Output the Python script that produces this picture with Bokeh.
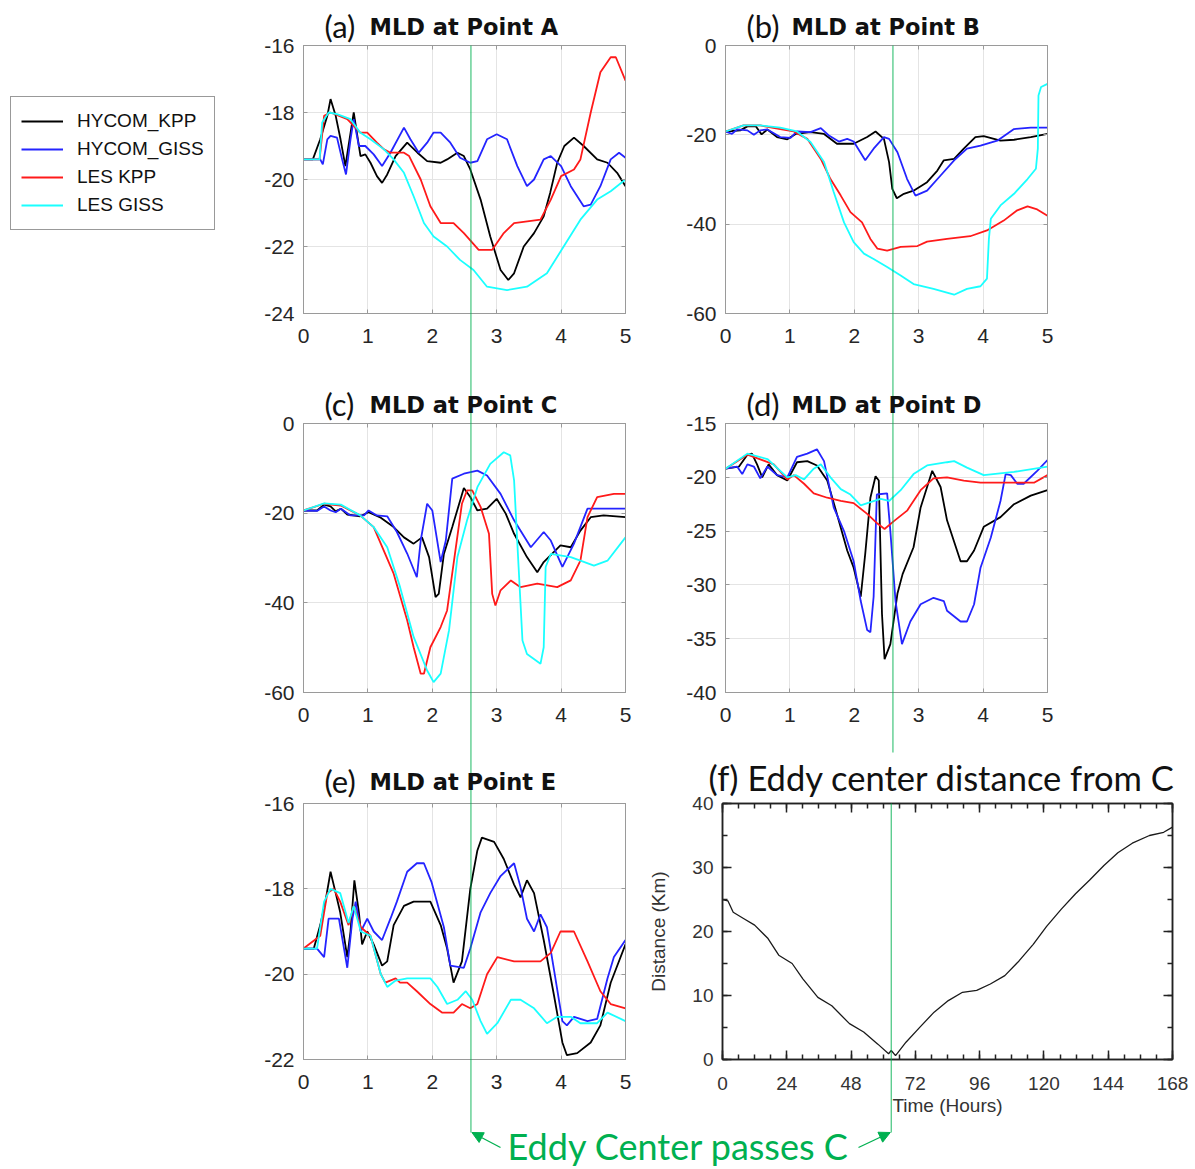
from bokeh.plotting import figure
from bokeh.layouts import column, row
from bokeh.models import (Range1d, LinearAxis, FixedTicker, Legend, LegendItem,
                          Label, Arrow, NormalHead, CustomJSTickFormatter,
                          PrintfTickFormatter, Spacer)
from bokeh.embed import file_html
from bokeh.resources import INLINE

# ---------------- data (days, MLD in m) ----------------
series_names = ["HYCOM_KPP", "HYCOM_GISS", "LES KPP", "LES GISS"]
series_colors = ["#000000", "#2424ff", "#ff1a1a", "#1affff"]

# Panel (a) Point A
a_hkpp_t = [0, 0.145, 0.26, 0.37, 0.42, 0.5, 0.575, 0.65, 0.78, 0.885, 0.96, 1.04, 1.14, 1.22, 1.3, 1.43, 1.61, 1.77, 1.92, 2.13, 2.23, 2.39, 2.49, 2.59, 2.75, 2.9, 3.06, 3.18, 3.27, 3.42, 3.58, 3.73, 3.83, 3.94, 4.05, 4.2, 4.35, 4.56, 4.72, 4.87, 5.0]
a_hkpp_mld = [-19.4, -19.4, -18.8, -18.1, -17.6, -18.1, -18.8, -19.6, -18.0, -19.3, -19.25, -19.5, -19.9, -20.1, -19.85, -19.3, -18.9, -19.2, -19.45, -19.5, -19.4, -19.2, -19.3, -19.7, -20.6, -21.7, -22.7, -23.0, -22.8, -22.0, -21.6, -21.1, -20.4, -19.5, -19.0, -18.75, -19.0, -19.4, -19.5, -19.8, -20.2]
a_hgiss_t = [0, 0.2, 0.26, 0.3, 0.37, 0.42, 0.52, 0.6, 0.66, 0.73, 0.78, 0.86, 0.96, 1.09, 1.22, 1.35, 1.56, 1.66, 1.79, 1.92, 2.02, 2.13, 2.28, 2.43, 2.59, 2.7, 2.85, 3.0, 3.16, 3.32, 3.47, 3.58, 3.73, 3.84, 4.0, 4.15, 4.35, 4.46, 4.61, 4.77, 4.9, 5.0]
a_hgiss_mld = [-19.4, -19.4, -19.4, -19.55, -18.8, -18.7, -18.75, -19.4, -19.85, -18.8, -18.2, -19.0, -19.0, -19.25, -19.6, -19.2, -18.45, -18.8, -19.2, -18.9, -18.6, -18.6, -18.9, -19.35, -19.5, -19.45, -18.8, -18.65, -18.8, -19.6, -20.2, -20.0, -19.4, -19.3, -19.6, -20.2, -20.8, -20.75, -20.2, -19.4, -19.2, -19.35]
a_lkpp_t = [0, 0.25, 0.32, 0.42, 0.68, 0.88, 0.99, 1.14, 1.25, 1.35, 1.56, 1.64, 1.82, 1.97, 2.13, 2.33, 2.49, 2.72, 2.93, 3.11, 3.27, 3.68, 3.84, 4.0, 4.2, 4.3, 4.46, 4.61, 4.77, 4.85, 5.0]
a_lkpp_mld = [-19.4, -19.4, -18.1, -18.0, -18.2, -18.6, -18.6, -18.9, -19.1, -19.2, -19.2, -19.3, -20.0, -20.8, -21.3, -21.3, -21.6, -22.1, -22.1, -21.6, -21.3, -21.2, -20.6, -19.9, -19.7, -19.4, -18.0, -16.8, -16.35, -16.35, -17.05]
a_lgiss_t = [0, 0.25, 0.29, 0.39, 0.52, 0.73, 0.88, 1.04, 1.25, 1.4, 1.56, 1.71, 1.87, 2.02, 2.23, 2.43, 2.64, 2.85, 3.16, 3.47, 3.78, 4.04, 4.3, 4.56, 4.77, 5.0]
a_lgiss_mld = [-19.4, -19.4, -18.3, -18.0, -18.05, -18.2, -18.6, -18.8, -19.1, -19.4, -19.8, -20.5, -21.3, -21.7, -22.0, -22.4, -22.7, -23.2, -23.3, -23.2, -22.8, -22.0, -21.2, -20.6, -20.35, -20.0]

# Panel (b) Point B
b_hkpp_t = [0, 0.23, 0.34, 0.47, 0.56, 0.65, 0.8, 0.96, 1.09, 1.32, 1.53, 1.73, 1.99, 2.2, 2.33, 2.46, 2.54, 2.59, 2.66, 2.77, 2.92, 3.13, 3.29, 3.39, 3.55, 3.7, 3.88, 4.01, 4.27, 4.48, 4.74, 5.0]
b_hkpp_mld = [-19.25, -19.0, -18.1, -18.1, -19.9, -18.8, -20.5, -21.0, -19.8, -19.4, -19.8, -22.0, -22.0, -20.5, -19.25, -20.9, -26.1, -32.1, -34.2, -33.2, -32.5, -30.6, -28.0, -25.7, -25.4, -23.1, -20.5, -20.3, -21.3, -21.1, -20.5, -19.8]
b_hgiss_t = [0, 0.1, 0.18, 0.34, 0.44, 0.54, 0.65, 0.85, 1.01, 1.11, 1.32, 1.48, 1.6, 1.76, 1.89, 1.99, 2.17, 2.3, 2.46, 2.54, 2.67, 2.82, 2.95, 3.13, 3.34, 3.55, 3.75, 3.96, 4.22, 4.48, 4.74, 5.0]
b_hgiss_mld = [-19.25, -19.8, -18.8, -19.0, -20.0, -19.0, -18.8, -20.5, -20.7, -19.25, -19.4, -18.5, -20.1, -21.5, -20.9, -21.5, -25.7, -23.1, -20.5, -20.9, -23.9, -29.9, -33.6, -32.5, -29.1, -25.7, -23.1, -22.4, -21.3, -18.7, -18.4, -18.4]
b_lkpp_t = [0, 0.28, 0.54, 0.85, 1.06, 1.27, 1.48, 1.63, 1.79, 1.94, 2.12, 2.25, 2.36, 2.51, 2.72, 2.98, 3.13, 3.44, 3.8, 4.06, 4.32, 4.53, 4.69, 4.84, 5.0]
b_lkpp_mld = [-19.25, -17.9, -17.9, -18.7, -19.25, -20.9, -25.4, -29.9, -33.6, -37.3, -39.6, -43.3, -45.5, -45.9, -45.1, -44.9, -43.9, -43.3, -42.7, -41.4, -39.2, -36.9, -36.0, -36.7, -38.1]
b_lgiss_t = [0, 0.28, 0.54, 0.85, 1.11, 1.32, 1.53, 1.68, 1.84, 1.99, 2.15, 2.3, 2.51, 2.72, 2.92, 3.23, 3.55, 3.75, 3.96, 4.06, 4.09, 4.12, 4.27, 4.48, 4.69, 4.82, 4.85, 4.86, 4.9, 5.0]
b_lgiss_mld = [-19.25, -17.9, -17.9, -18.4, -19.25, -21.6, -26.1, -32.8, -39.6, -44.0, -46.6, -47.8, -49.6, -51.5, -53.4, -54.5, -55.8, -54.5, -53.9, -52.2, -43.3, -38.8, -35.8, -33.2, -29.9, -27.6, -23.1, -11.2, -9.3, -8.6]

# Panel (c) Point C
c_hkpp_t = [0, 0.21, 0.32, 0.42, 0.5, 0.58, 0.68, 0.88, 1.01, 1.2, 1.4, 1.56, 1.71, 1.84, 1.95, 2.05, 2.1, 2.18, 2.31, 2.49, 2.59, 2.7, 2.85, 3.0, 3.14, 3.27, 3.47, 3.63, 3.73, 3.99, 4.15, 4.3, 4.46, 4.66, 5.0]
c_hkpp_mld = [-19.4, -19.4, -18.1, -18.5, -19.6, -19.0, -20.3, -20.7, -19.8, -21.0, -23.1, -25.4, -26.8, -25.4, -29.8, -38.7, -38.0, -29.1, -23.1, -14.4, -16.4, -19.4, -19.0, -16.8, -20.1, -24.6, -29.8, -33.2, -30.9, -27.2, -27.6, -23.9, -20.9, -20.5, -20.9]
c_hgiss_t = [0, 0.21, 0.32, 0.42, 0.5, 0.58, 0.73, 0.94, 1.01, 1.14, 1.3, 1.45, 1.61, 1.76, 1.82, 1.92, 2.0, 2.13, 2.21, 2.31, 2.49, 2.7, 2.85, 3.06, 3.27, 3.53, 3.73, 3.84, 4.02, 4.2, 4.41, 5.0]
c_hgiss_mld = [-19.4, -19.5, -18.5, -19.4, -19.8, -19.0, -20.5, -20.5, -19.4, -20.5, -20.7, -24.2, -29.0, -34.3, -26.1, -17.9, -19.4, -30.9, -26.1, -12.3, -11.2, -10.5, -11.6, -15.7, -21.6, -27.6, -24.2, -26.1, -32.0, -26.8, -19.0, -19.0]
c_lkpp_t = [0, 0.32, 0.58, 0.88, 1.09, 1.2, 1.4, 1.61, 1.71, 1.82, 1.87, 1.97, 2.13, 2.23, 2.33, 2.46, 2.54, 2.62, 2.75, 2.88, 2.93, 2.98, 3.06, 3.22, 3.37, 3.63, 3.94, 4.15, 4.3, 4.41, 4.56, 4.82, 5.0]
c_lkpp_mld = [-19.4, -17.9, -18.3, -20.5, -23.1, -26.8, -33.5, -43.9, -49.9, -55.8, -55.8, -49.9, -45.4, -41.7, -31.3, -17.9, -14.9, -14.9, -18.6, -24.6, -38.0, -40.6, -37.2, -35.0, -36.5, -35.7, -36.5, -35.0, -30.6, -20.9, -16.4, -15.7, -15.7]
c_lgiss_t = [0, 0.32, 0.58, 0.88, 1.09, 1.3, 1.5, 1.71, 1.92, 2.02, 2.13, 2.26, 2.39, 2.54, 2.7, 2.9, 3.11, 3.21, 3.27, 3.34, 3.4, 3.47, 3.68, 3.73, 3.76, 3.84, 4.15, 4.3, 4.51, 4.72, 5.0]
c_lgiss_mld = [-19.4, -17.8, -18.1, -20.5, -23.1, -27.6, -36.5, -47.6, -55.1, -57.7, -55.8, -46.1, -29.8, -21.6, -14.2, -9.0, -6.4, -7.1, -12.7, -32.0, -48.4, -51.4, -53.6, -49.9, -32.0, -29.1, -29.8, -30.6, -31.7, -30.6, -25.4]

# Panel (d) Point D
d_hkpp_t = [0, 0.21, 0.34, 0.41, 0.49, 0.57, 0.67, 0.8, 0.96, 1.11, 1.27, 1.42, 1.58, 1.73, 1.89, 1.99, 2.1, 2.17, 2.25, 2.33, 2.38, 2.43, 2.47, 2.56, 2.67, 2.75, 2.92, 3.03, 3.21, 3.34, 3.44, 3.65, 3.75, 3.86, 4.01, 4.27, 4.48, 4.74, 5.0]
d_hkpp_mld = [-19.2, -19.0, -17.9, -17.8, -18.8, -20.0, -18.8, -19.8, -20.3, -18.6, -18.5, -18.9, -20.3, -23.4, -26.8, -28.4, -31.1, -27.1, -21.9, -19.9, -20.3, -32.7, -36.9, -35.5, -30.8, -29.0, -26.5, -22.8, -19.4, -20.9, -24.0, -27.8, -27.8, -26.8, -24.6, -23.7, -22.5, -21.7, -21.2]
d_hgiss_t = [0, 0.18, 0.26, 0.34, 0.44, 0.54, 0.65, 0.8, 0.96, 1.11, 1.27, 1.42, 1.53, 1.68, 1.84, 1.99, 2.1, 2.2, 2.25, 2.3, 2.35, 2.51, 2.56, 2.64, 2.74, 2.87, 3.03, 3.23, 3.39, 3.44, 3.65, 3.75, 3.86, 3.96, 4.12, 4.27, 4.35, 4.43, 4.53, 4.63, 4.84, 5.0]
d_hgiss_mld = [-19.2, -19.0, -19.7, -18.8, -19.0, -20.1, -19.0, -19.8, -20.0, -18.1, -17.8, -17.4, -18.5, -22.8, -25.0, -27.8, -31.5, -34.2, -34.4, -31.1, -21.6, -21.5, -25.0, -31.5, -35.5, -33.4, -31.8, -31.2, -31.5, -32.4, -33.4, -33.4, -31.8, -28.4, -25.6, -22.2, -19.7, -19.8, -20.6, -20.6, -19.4, -18.4]
d_lkpp_t = [0, 0.34, 0.75, 0.96, 1.06, 1.22, 1.37, 1.58, 1.79, 1.99, 2.2, 2.36, 2.47, 2.61, 2.82, 3.03, 3.23, 3.44, 3.7, 3.96, 4.48, 4.79, 5.0]
d_lkpp_mld = [-19.2, -17.9, -18.8, -20.2, -19.8, -20.6, -21.5, -21.9, -22.2, -22.4, -23.4, -24.3, -24.8, -24.1, -23.1, -21.2, -20.1, -20.0, -20.3, -20.5, -20.5, -20.5, -19.8]
d_lgiss_t = [0, 0.34, 0.65, 0.96, 1.09, 1.22, 1.37, 1.48, 1.63, 1.79, 1.94, 2.1, 2.25, 2.41, 2.54, 2.72, 2.92, 3.13, 3.44, 3.55, 3.75, 4.01, 4.48, 5.0]
d_lgiss_mld = [-19.2, -17.8, -18.3, -20.0, -19.8, -20.2, -19.2, -18.8, -20.0, -21.1, -21.6, -22.6, -22.3, -22.0, -22.2, -21.2, -19.7, -18.9, -18.6, -18.5, -19.1, -19.8, -19.5, -19.0]

# Panel (e) Point E
e_hkpp_t = [0, 0.16, 0.26, 0.34, 0.42, 0.5, 0.57, 0.68, 0.73, 0.79, 0.86, 0.91, 0.99, 1.09, 1.22, 1.3, 1.4, 1.56, 1.71, 1.82, 1.97, 2.13, 2.23, 2.33, 2.46, 2.59, 2.7, 2.77, 2.96, 3.11, 3.27, 3.37, 3.47, 3.58, 3.73, 3.89, 4.02, 4.09, 4.25, 4.46, 4.61, 4.77, 5.0]
e_hkpp_mld = [-19.4, -19.4, -18.85, -18.3, -17.6, -18.1, -18.55, -19.6, -19.0, -17.8, -18.55, -19.3, -19.0, -19.3, -19.8, -19.7, -18.85, -18.4, -18.3, -18.3, -18.3, -18.85, -19.4, -20.2, -19.7, -18.0, -17.1, -16.8, -16.9, -17.3, -17.9, -18.2, -17.8, -18.1, -19.2, -20.5, -21.6, -21.9, -21.85, -21.6, -21.2, -20.2, -19.3]
e_hgiss_t = [0, 0.21, 0.32, 0.39, 0.55, 0.68, 0.76, 0.81, 0.89, 0.99, 1.09, 1.22, 1.35, 1.45, 1.61, 1.76, 1.87, 1.99, 2.18, 2.28, 2.49, 2.59, 2.75, 2.9, 3.06, 3.27, 3.37, 3.47, 3.58, 3.68, 3.78, 3.89, 4.02, 4.09, 4.2, 4.41, 4.56, 4.72, 4.82, 5.0]
e_hgiss_mld = [-19.4, -19.4, -19.6, -18.7, -18.7, -19.85, -18.7, -18.3, -19.0, -18.7, -19.0, -19.2, -18.7, -18.3, -17.6, -17.4, -17.4, -17.85, -18.9, -19.8, -19.85, -19.4, -18.55, -18.1, -17.7, -17.4, -17.96, -18.7, -19.0, -18.6, -18.9, -19.9, -21.1, -21.2, -21.0, -21.1, -21.05, -20.1, -19.6, -19.2]
e_lkpp_t = [0, 0.26, 0.37, 0.47, 0.57, 0.7, 0.78, 0.89, 1.04, 1.2, 1.27, 1.43, 1.5, 1.61, 1.76, 1.97, 2.15, 2.33, 2.46, 2.59, 2.7, 2.85, 3.01, 3.27, 3.68, 3.84, 3.99, 4.2, 4.41, 4.61, 4.77, 5.0]
e_lkpp_mld = [-19.4, -19.1, -18.1, -18.0, -18.3, -18.85, -18.4, -18.9, -19.1, -20.0, -20.2, -20.1, -20.2, -20.2, -20.4, -20.7, -20.9, -20.9, -20.7, -20.8, -20.7, -20.0, -19.6, -19.7, -19.7, -19.5, -19.0, -19.0, -19.7, -20.4, -20.7, -20.8]
e_lgiss_t = [0, 0.21, 0.32, 0.42, 0.57, 0.7, 0.78, 0.89, 1.04, 1.2, 1.3, 1.43, 1.61, 1.97, 2.08, 2.23, 2.39, 2.52, 2.62, 2.75, 2.85, 3.01, 3.22, 3.37, 3.58, 3.78, 3.94, 4.15, 4.3, 4.56, 4.72, 5.0]
e_lgiss_mld = [-19.4, -19.4, -18.3, -18.0, -18.1, -18.8, -18.4, -19.0, -19.1, -20.0, -20.3, -20.15, -20.1, -20.1, -20.3, -20.7, -20.6, -20.4, -20.6, -21.1, -21.4, -21.15, -20.6, -20.6, -20.8, -21.15, -21.0, -21.0, -21.15, -21.15, -20.9, -21.1]

# Panel (f) eddy centre distance from C
f_hours = [0, 2, 4, 8, 12, 17, 21, 26, 30, 35.6, 40.8, 47.4, 52.7, 58, 62, 63, 64.6, 68.5, 73.8, 79, 84.3, 89.6, 94.9, 100, 105.4, 110.7, 116, 121, 126.5, 131.8, 137, 142.4, 147.6, 153, 159.4, 164.7, 168]
f_km = [25.0, 24.8, 23.0, 22.0, 21.0, 18.9, 16.3, 15.0, 12.6, 9.7, 8.4, 5.6, 4.3, 2.4, 0.9, 1.4, 0.6, 2.7, 5.1, 7.4, 9.2, 10.5, 10.8, 11.8, 13.1, 15.4, 18.0, 20.8, 23.5, 25.9, 28.0, 30.3, 32.3, 33.8, 35.0, 35.5, 36.3]

day_ticks = [0, 1, 2, 3, 4, 5]
a_yticks = [-24, -22, -20, -18, -16]
b_yticks = [-60, -40, -20, 0]
c_yticks = [-60, -40, -20, 0]
d_yticks = [-40, -35, -30, -25, -20, -15]
e_yticks = [-22, -20, -18, -16]
f_xticks = [0, 24, 48, 72, 96, 120, 144, 168]
f_yticks = [0, 10, 20, 30, 40]

EDDY_PASS_DAY = 2.6
EDDY_PASS_HOUR = 63

# ---------------- style / layout ----------------
GREEN = "#00B050"
AXIS_GRAY = "#9a9a9a"
TXT = "#262626"
PAGE_W, PAGE_H = 1195, 1169
LEFT_W, RIGHT_W = 645, 550
FRAME_W = 322


def mirror_axis(p, loc, ticker, color, width, tick_in, minor_in=0):
    ax = LinearAxis(ticker=ticker, formatter=CustomJSTickFormatter(code="return ''"),
                    major_tick_in=tick_in, major_tick_out=0,
                    minor_tick_in=minor_in, minor_tick_out=0,
                    axis_line_color=color, axis_line_width=width,
                    major_tick_line_color=color, major_tick_line_width=width,
                    minor_tick_line_color=color, minor_tick_line_width=width,
                    major_label_standoff=0)
    p.add_layout(ax, loc)


def mld_panel(width, height, left, right, top, bottom, yr, yticks, series):
    p = figure(width=width, height=height, x_range=Range1d(0, 5), y_range=Range1d(*yr),
               output_backend="svg", toolbar_location=None,
               min_border_left=left, min_border_right=right,
               min_border_top=top, min_border_bottom=bottom,
               background_fill_color="white", border_fill_color="white")
    for (t, m), col in zip(series, series_colors):
        p.line(t, m, line_color=col, line_width=1.8)
    xt = FixedTicker(ticks=day_ticks)
    yt = FixedTicker(ticks=yticks)
    p.xaxis.ticker = xt
    p.yaxis.ticker = yt
    p.yaxis.formatter = PrintfTickFormatter(format="%d")
    p.xgrid.ticker = xt
    p.ygrid.ticker = yt
    p.grid.grid_line_color = "#e4e4e4"
    p.grid.grid_line_width = 1
    for ax in (p.xaxis[0], p.yaxis[0]):
        ax.major_tick_in = 4
        ax.major_tick_out = 0
        ax.minor_tick_in = 0
        ax.minor_tick_out = 0
        ax.axis_line_color = AXIS_GRAY
        ax.major_tick_line_color = AXIS_GRAY
        ax.major_label_text_font = "Liberation Sans"
        ax.major_label_text_font_size = "21px"
        ax.major_label_text_color = TXT
    p.xaxis.major_label_standoff = 15
    p.yaxis.major_label_standoff = 9
    mirror_axis(p, "above", FixedTicker(ticks=day_ticks), AXIS_GRAY, 1, 4)
    mirror_axis(p, "right", FixedTicker(ticks=yticks), AXIS_GRAY, 1, 4)
    p.outline_line_color = AXIS_GRAY
    return p


pa = mld_panel(LEFT_W, 370, 303, 20, 45, 57, (-24, -16), a_yticks,
               [(a_hkpp_t, a_hkpp_mld), (a_hgiss_t, a_hgiss_mld),
                (a_lkpp_t, a_lkpp_mld), (a_lgiss_t, a_lgiss_mld)])
pb = mld_panel(RIGHT_W, 370, 80, 148, 45, 57, (-60, 0), b_yticks,
               [(b_hkpp_t, b_hkpp_mld), (b_hgiss_t, b_hgiss_mld),
                (b_lkpp_t, b_lkpp_mld), (b_lgiss_t, b_lgiss_mld)])
pc = mld_panel(LEFT_W, 382, 303, 20, 53, 60, (-60, 0), c_yticks,
               [(c_hkpp_t, c_hkpp_mld), (c_hgiss_t, c_hgiss_mld),
                (c_lkpp_t, c_lkpp_mld), (c_lgiss_t, c_lgiss_mld)])
pd_ = mld_panel(RIGHT_W, 382, 80, 148, 53, 60, (-40, -15), d_yticks,
                [(d_hkpp_t, d_hkpp_mld), (d_hgiss_t, d_hgiss_mld),
                 (d_lkpp_t, d_lkpp_mld), (d_lgiss_t, d_lgiss_mld)])
pe = mld_panel(LEFT_W, 366, 303, 20, 48, 48, (-22, -16), e_yticks,
               [(e_hkpp_t, e_hkpp_mld), (e_hgiss_t, e_hgiss_mld),
                (e_lkpp_t, e_lkpp_mld), (e_lgiss_t, e_lgiss_mld)])

# ---- panel (f)
pf = figure(width=RIGHT_W, height=366, x_range=Range1d(0, 168), y_range=Range1d(0, 40),
            output_backend="svg", toolbar_location=None,
            min_border_left=77, min_border_right=23, min_border_top=51, min_border_bottom=58,
            background_fill_color="white", border_fill_color="white")
pf.line(f_hours, f_km, line_color="#1a1a1a", line_width=1.3)
pf.grid.visible = False
pf.xaxis.ticker = FixedTicker(ticks=f_xticks, minor_ticks=list(range(0, 169, 6)))
pf.yaxis.ticker = FixedTicker(ticks=f_yticks, minor_ticks=list(range(0, 41, 5)))
for ax in (pf.xaxis[0], pf.yaxis[0]):
    ax.major_tick_in = 9
    ax.major_tick_out = 0
    ax.minor_tick_in = 5
    ax.minor_tick_out = 0
    ax.axis_line_color = "#222222"
    ax.axis_line_width = 1.5
    ax.major_tick_line_color = "#222222"
    ax.major_tick_line_width = 1.5
    ax.minor_tick_line_color = "#222222"
    ax.minor_tick_line_width = 1.5
    ax.major_label_text_font = "Liberation Sans"
    ax.major_label_text_font_size = "19px"
    ax.major_label_text_color = "#333333"
    ax.axis_label_text_font = "Liberation Sans"
    ax.axis_label_text_font_size = "19px"
    ax.axis_label_text_font_style = "normal"
    ax.axis_label_text_color = "#333333"
pf.xaxis.axis_label = "Time (Hours)"
pf.yaxis.axis_label = "Distance (Km)"
pf.xaxis.major_label_standoff = 17
pf.xaxis.axis_label_standoff = 2
pf.yaxis.major_label_standoff = 9
pf.yaxis.axis_label_standoff = 20
mirror_axis(pf, "above", FixedTicker(ticks=f_xticks, minor_ticks=list(range(0, 169, 6))),
            "#222222", 1.5, 9, 5)
mirror_axis(pf, "right", FixedTicker(ticks=f_yticks, minor_ticks=list(range(0, 41, 5))),
            "#222222", 1.5, 9, 5)
pf.outline_line_color = "#222222"
pf.outline_line_width = 1.5

# ---- transparent overlay covering the whole page (titles, legend, eddy markers)
ov = figure(width=PAGE_W, height=PAGE_H, x_range=Range1d(0, PAGE_W), y_range=Range1d(PAGE_H, 0),
            x_axis_location=None, y_axis_location=None, output_backend="svg",
            toolbar_location=None, min_border=0,
            background_fill_color=None, border_fill_color=None)
ov.outline_line_color = None
ov.grid.visible = False
ov.styles = {"position": "absolute", "top": "0px", "left": "0px", "z-index": "10",
             "pointer-events": "none", "width": f"{PAGE_W}px", "height": f"{PAGE_H}px"}

# legend: sample glyphs only (a single NaN point, so nothing is plotted)
nan = float("nan")
leg_rends = [ov.line(x=[nan], y=[nan], line_color=c, line_width=2) for c in series_colors]
legend = Legend(items=[LegendItem(label=n, renderers=[r]) for n, r in zip(series_names, leg_rends)],
                location=(10, PAGE_H - 230), label_text_font="Liberation Sans",
                label_text_font_size="19px", label_text_color="#111111",
                glyph_width=42, glyph_height=28, label_height=28, spacing=0,
                padding=10, label_standoff=14, border_line_color="#333333",
                border_line_width=1, background_fill_color="white",
                background_fill_alpha=1, margin=0)
ov.add_layout(legend)

# panel titles
panel_frames = [("a", "A", 303, 45), ("b", "B", LEFT_W + 80, 45),
                ("c", "C", 303, 423), ("d", "D", LEFT_W + 80, 423),
                ("e", "E", 303, 800)]
for letter, point, fx, fy in panel_frames:
    ov.add_layout(Label(x=fx + 21, y=fy - 20, text=f"({letter})", text_font="Lato",
                        text_font_size="31px", text_color="#111111", text_baseline="middle"))
    ov.add_layout(Label(x=fx + 66, y=fy - 19, text=f"MLD at Point {point}",
                        text_font="DejaVu Sans", text_font_style="bold",
                        text_font_size="22.5px", text_color="#111111", text_baseline="middle"))
ov.add_layout(Label(x=708, y=777, text="(f) Eddy center distance from C", text_font="Lato",
                    text_font_size="34.5px", text_color="#111111", text_baseline="middle"))

# eddy-centre passage markers
x_left = 303 + EDDY_PASS_DAY * FRAME_W / 5
x_right_bd = LEFT_W + 80 + EDDY_PASS_DAY * FRAME_W / 5
x_right_f = LEFT_W + 77 + EDDY_PASS_HOUR * 450 / 168
tip_y = 1132
ov.segment(x0=[x_left, x_right_bd, x_right_f], y0=[45, 45, 803],
           x1=[x_left, x_right_bd, x_right_f], y1=[tip_y, 752, tip_y],
           line_color=GREEN, line_width=1.2, line_alpha=0.75)
ov.add_layout(Arrow(end=NormalHead(size=11, fill_color=GREEN, line_color=GREEN),
                    x_start=500, y_start=1147, x_end=x_left + 1, y_end=tip_y,
                    line_color=GREEN, line_width=1.3))
ov.add_layout(Arrow(end=NormalHead(size=11, fill_color=GREEN, line_color=GREEN),
                    x_start=858, y_start=1147, x_end=x_right_f - 1, y_end=tip_y,
                    line_color=GREEN, line_width=1.3))
ov.add_layout(Label(x=678, y=1145, text="Eddy Center passes C", text_align="center",
                    text_baseline="middle", text_font="Lato", text_font_size="36px",
                    text_color=GREEN))

layout = column(row(pa, pb), row(pc, pd_), row(pe, pf),
                Spacer(width=PAGE_W, height=PAGE_H - 1118), ov)
open("out.html", "w").write(file_html(layout, INLINE))
